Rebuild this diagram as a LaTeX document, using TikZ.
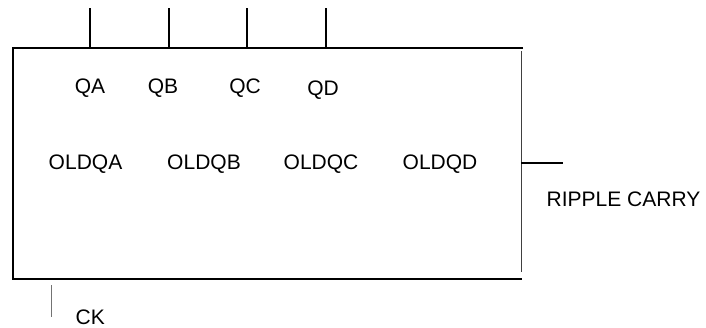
\documentclass[tikz,border=0pt]{standalone}
\usepackage{fontspec}
\setmainfont{Liberation Sans}
\usetikzlibrary{calc}

\begin{document}
\begin{tikzpicture}[x=1pt,y=-1pt,
  lbl/.style={font=\fontsize{21}{22}\selectfont,inner sep=0pt,anchor=base},
  edge/.style={line width=1.6pt},
  pin/.style={line width=1.2pt}]
\useasboundingbox (0,0) rectangle (706,327);
% counter block
\coordinate (tl) at (13,48);
\coordinate (tr) at (523,48);
\coordinate (bl) at (13,279);
\coordinate (br) at (522,279);
\coordinate (rt) at (521,51);
\coordinate (rb) at (521,272);
\draw[edge] (tr) -- (tl) -- (bl) -- (br);
\draw[line width=1pt,black!75] (rt) -- (rb);
% outputs on top
\foreach \n/\x in {a/90,b/169,c/247,d/326}{
  \coordinate (p\n) at (\x,48);
  \coordinate (e\n) at (\x,8);
  \draw[pin] (p\n) -- (e\n);
}
\node[lbl] (qa) at (90,93) {QA};
\node[lbl] (qb) at (163,93) {QB};
\node[lbl] (qc) at (245,93) {QC};
\node[lbl] (qd) at (323,95.5) {QD};
\node[lbl] (oldqa) at (85.5,169) {OLDQA};
\node[lbl] (oldqb) at (204,169) {OLDQB};
\node[lbl] (oldqc) at (321,169) {OLDQC};
\node[lbl] (oldqd) at (440,169) {OLDQD};
% ripple carry out
\coordinate (rc) at (521,163);
\coordinate (rcend) at (563,163);
\draw[pin] (rc) -- (rcend);
\node[lbl,anchor=base west] (ripple) at (546.5,206.5) {RIPPLE CARRY};
% clock in
\coordinate (ck1) at (51,285);
\coordinate (ck2) at (51,317);
\draw[line width=1pt,black!55] (ck1) -- (ck2);
\node[lbl,anchor=base west] (ck) at (75.5,324) {CK};
\end{tikzpicture}
\end{document}
